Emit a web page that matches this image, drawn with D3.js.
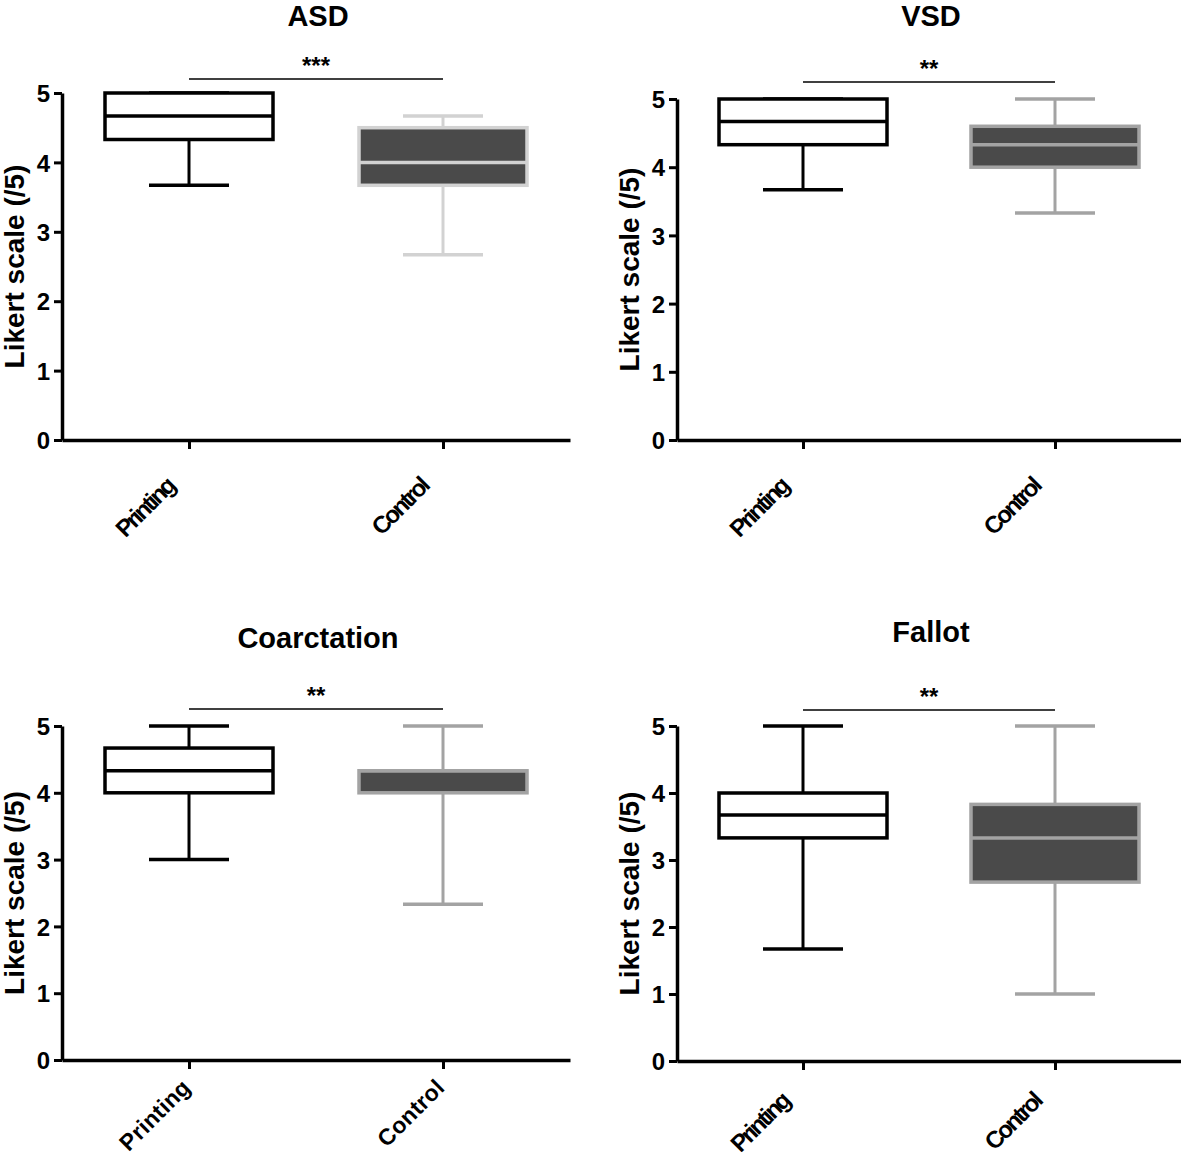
<!DOCTYPE html>
<html>
<head>
  <meta charset="UTF-8">
  <style>
    body { margin: 0; background: #fff; }
    text { font-family: "Liberation Sans", Arial, sans-serif; font-weight: bold; }
  </style>
</head>
<body>
<script src="https://d3js.org/d3.v7.min.js"></script>
<div id="my_dataviz"></div>
<script>

// data: [min, q1, median, q3, max]
var panelTitles = ["ASD", "VSD", "Coarctation", "Fallot"];
var groups = ["Printing", "Control"];
var printingStats = [
  [3.67, 4.33, 4.67, 5.0, 5.0],
  [3.67, 4.33, 4.67, 5.0, 5.0],
  [3.0, 4.0, 4.33, 4.67, 5.0],
  [1.67, 3.33, 3.67, 4.0, 5.0]
];
var controlStats = [
  [2.67, 3.67, 4.0, 4.5, 4.67],
  [3.33, 4.0, 4.33, 4.6, 5.0],
  [2.33, 4.0, 4.33, 4.33, 5.0],
  [1.0, 2.67, 3.33, 3.83, 5.0]
];
var significance = ["***", "**", "**", "**"];
var yTicks = [0, 1, 2, 3, 4, 5];

// layout of the four panels
var layout = [
  {x0: 62, x1: 570, yTop: 93, yBot: 440, titleY: 26, sigY: 79, condensed: true, labDx: -13, labDy: 48},
  {x0: 677, x1: 1181, yTop: 99, yBot: 440, titleY: 26, sigY: 82, condensed: true, labDx: -13, labDy: 48},
  {x0: 62, x1: 570, yTop: 726, yBot: 1060, titleY: 648, sigY: 709, condensed: false, labDx: 3, labDy: 29},
  {x0: 677, x1: 1181, yTop: 726, yBot: 1061, titleY: 642, sigY: 710, condensed: true, labDx: -12, labDy: 42}
];
var controlEdge = ["#d2d2d2", "#a3a3a3", "#a3a3a3", "#a3a3a3"];

var svg = d3.select("#my_dataviz")
  .append("svg")
  .attr("width", 1181)
  .attr("height", 1157);

panelTitles.forEach(function(title, i) {
  var L = layout[i];
  var g = svg.append("g");

  var y = d3.scaleLinear().domain([0, 5]).range([L.yBot, L.yTop]);
  var x = d3.scalePoint().domain(groups).range([L.x0, L.x1]).padding(0.5);

  // title
  g.append("text")
    .attr("x", (L.x0 + L.x1) / 2 + 2)
    .attr("y", L.titleY)
    .attr("text-anchor", "middle")
    .style("font-size", "29px")
    .text(title);

  // y axis
  var yAxis = g.append("g")
    .attr("transform", "translate(" + L.x0 + ",0)")
    .call(d3.axisLeft(y).tickValues(yTicks).tickFormat(d3.format("d"))
      .tickSize(8).tickSizeOuter(0).tickPadding(4));
  yAxis.select(".domain").attr("stroke", "#000").attr("stroke-width", 3.5);
  yAxis.selectAll(".tick line").attr("stroke", "#000").attr("stroke-width", 3);
  yAxis.selectAll(".tick text")
    .style("font-size", "24px")
    .attr("fill", "#000")
    .attr("dy", "0.36em");

  // x axis
  var xAxis = g.append("g")
    .attr("transform", "translate(0," + L.yBot + ")")
    .call(d3.axisBottom(x).tickSize(9).tickSizeOuter(0).tickFormat(""));
  xAxis.select(".domain").attr("stroke", "#000").attr("stroke-width", 3.5);
  xAxis.selectAll(".tick line").attr("stroke", "#000").attr("stroke-width", 3);

  // rotated category labels
  g.selectAll(".catlab")
    .data(groups)
    .enter()
    .append("text")
    .attr("class", "catlab")
    .attr("text-anchor", "end")
    .attr("transform", function(d) {
      return "translate(" + (x(d) + L.labDx) + "," + (L.yBot + L.labDy) + ") rotate(-45)";
    })
    .style("font-size", L.condensed ? "24px" : "23px")
    .style("letter-spacing", L.condensed ? "-2.4px" : "0.3px")
    .text(function(d) { return d; });

  // y axis title
  g.append("text")
    .attr("transform", "translate(" + (L.x0 - 38) + "," + (L.yTop + L.yBot) / 2 + ") rotate(-90)")
    .attr("text-anchor", "middle")
    .style("font-size", "28px")
    .text("Likert scale (/5)");

  // significance bar
  g.append("line")
    .attr("x1", x("Printing")).attr("x2", x("Control"))
    .attr("y1", L.sigY).attr("y2", L.sigY)
    .attr("stroke", "#000").attr("stroke-width", 1.5);
  g.append("text")
    .attr("x", (x("Printing") + x("Control")) / 2)
    .attr("y", L.sigY - 5)
    .attr("text-anchor", "middle")
    .style("font-size", "24px")
    .text(significance[i]);

  // boxes
  var boxes = [
    {group: "Printing", s: printingStats[i], fill: "#fff", edge: "#000"},
    {group: "Control", s: controlStats[i], fill: "#4a4a4a", edge: controlEdge[i]}
  ];
  var halfBox = 84, halfCap = 40;

  boxes.forEach(function(b) {
    var cx = x(b.group);
    var s = b.s;
    // whiskers
    g.append("line")
      .attr("x1", cx).attr("x2", cx)
      .attr("y1", y(s[0])).attr("y2", y(s[1]))
      .attr("stroke", b.edge).attr("stroke-width", 3);
    g.append("line")
      .attr("x1", cx).attr("x2", cx)
      .attr("y1", y(s[3])).attr("y2", y(s[4]))
      .attr("stroke", b.edge).attr("stroke-width", 3);
    [s[0], s[4]].forEach(function(v) {
      g.append("line")
        .attr("x1", cx - halfCap).attr("x2", cx + halfCap)
        .attr("y1", y(v)).attr("y2", y(v))
        .attr("stroke", b.edge).attr("stroke-width", 3.5);
    });
    // box
    g.append("rect")
      .attr("x", cx - halfBox)
      .attr("y", y(s[3]))
      .attr("width", halfBox * 2)
      .attr("height", y(s[1]) - y(s[3]))
      .attr("fill", b.fill)
      .attr("stroke", b.edge)
      .attr("stroke-width", 3.5);
    // median
    g.append("line")
      .attr("x1", cx - halfBox).attr("x2", cx + halfBox)
      .attr("y1", y(s[2])).attr("y2", y(s[2]))
      .attr("stroke", b.edge).attr("stroke-width", 3.5);
  });
});

</script>
</body>
</html>
